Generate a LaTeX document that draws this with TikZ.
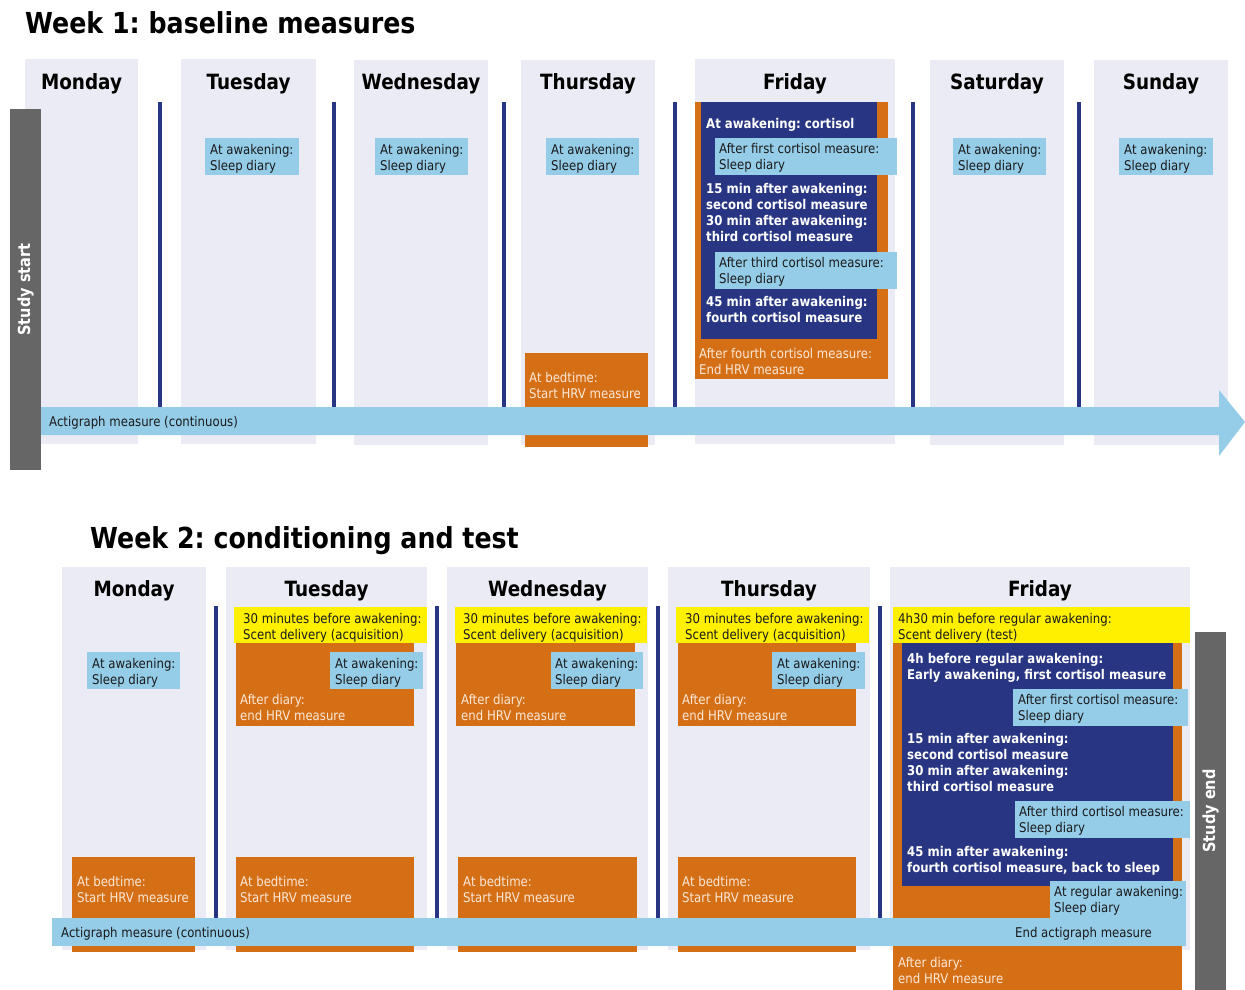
\documentclass[tikz,border=0pt]{standalone}
\usepackage{fontspec}
\setmainfont{DejaVu Sans}[FakeStretch=0.875]
\frenchspacing
\definecolor{lav}{HTML}{EAEBF4}
\definecolor{dblue}{HTML}{283583}
\definecolor{orng}{HTML}{D56F16}
\definecolor{lblue}{HTML}{95CDE8}
\definecolor{yel}{HTML}{FFF000}
\definecolor{gry}{HTML}{666666}
\definecolor{ltxt}{HTML}{FBE8D8}
\definecolor{dtxt}{HTML}{1A1A1A}
\newcommand\fs{\fontsize{13.4bp}{16bp}\selectfont}
\newcommand\bx[6]{\node[#6,anchor=north west,inner sep=0pt,outer sep=0pt,minimum width={(#4-#2)*1bp},minimum height={(#5-#3)*1bp}] (#1) at (#2,#3) {};}
\newcommand\ml[1]{\vtop{\baselineskip=16bp\lineskiplimit=-20pt\lineskip=0pt\halign{##\hfil\cr#1\crcr}}}
\newcommand\tx[5]{\node[#4,anchor=base west,inner sep=0pt] (#1) at (#2,#3) {\ml{#5}};}
\tikzset{
  col/.style={fill=lav},
  ob/.style={fill=orng},
  db/.style={fill=dblue},
  lb/.style={fill=lblue},
  yb/.style={fill=yel},
  gb/.style={fill=gry},
  divider/.style={draw=dblue,line width=4.5bp},
  tdark/.style={text=dtxt,font=\fs},
  tlight/.style={text=ltxt,font=\fs},
  tbold/.style={text=white,font=\bfseries\fs},
  dayname/.style={font=\bfseries\fontsize{21bp}{25bp}\selectfont,anchor=base,inner sep=0pt,text=black},
  ttl/.style={font=\bfseries\fontsize{28.9bp}{34bp}\selectfont,anchor=base west,inner sep=0pt,text=black},
  studybar/.style={text=white,font=\bfseries\fontsize{16.6bp}{20bp}\selectfont,rotate=90,inner sep=0pt},
}
\begin{document}
\begin{tikzpicture}[x=1bp,y=-1bp]
\useasboundingbox (0,0) rectangle (1245,990);
% ================= WEEK 1 =================
\node[ttl] (title1) at (25,33) {Week 1: baseline measures};
\bx{c1mon}{25}{59}{138}{444}{col}
\bx{c1tue}{181}{59}{316}{444}{col}
\bx{c1wed}{354}{60}{488}{445}{col}
\bx{c1thu}{521}{60}{655}{445}{col}
\bx{c1fri}{695}{59}{895}{444}{col}
\bx{c1sat}{930}{60}{1064}{445}{col}
\bx{c1sun}{1094}{60}{1228}{445}{col}
\node[dayname] (d1mon) at (81.5,89) {Monday};
\node[dayname] (d1tue) at (248.5,89) {Tuesday};
\node[dayname] (d1wed) at (421,89) {Wednesday};
\node[dayname] (d1thu) at (588,89) {Thursday};
\node[dayname] (d1fri) at (795,89) {Friday};
\node[dayname] (d1sat) at (997,89) {Saturday};
\node[dayname] (d1sun) at (1161,89) {Sunday};
\foreach \xx in {160,334,504,675,913,1079} {\draw[divider] (\xx,102) -- (\xx,408);}
% boxes
\bx{s1tue}{205}{138}{299}{175}{lb}
\bx{s1wed}{375}{138}{468}{175}{lb}
\bx{s1thu}{546}{138}{639}{175}{lb}
\bx{s1sat}{953}{138}{1046}{175}{lb}
\bx{s1sun}{1119}{138}{1213}{175}{lb}
\bx{h1thu}{525}{353}{648}{447}{ob}
\bx{f1or}{695}{102}{888}{379}{ob}
\bx{f1db}{701}{102}{877}{339}{db}
\bx{f1lb1}{715}{138}{897}{175}{lb}
\bx{f1lb2}{715}{252}{897}{289}{lb}
% study start and actigraph arrow
\bx{sstart}{10}{109}{41}{470}{gb}
\fill[lblue] (41,407) -- (1219,407) -- (1219,390) -- (1245,422) -- (1219,456) -- (1219,435) -- (41,435) -- cycle;
% texts week 1
\node[studybar] (sstartt) at (sstart.center) {Study start};
\tx{a1}{49}{426}{tdark}{Actigraph measure (continuous)}
\tx{s1tuet}{210}{154}{tdark}{At awakening:\cr Sleep diary}
\tx{s1wedt}{380}{154}{tdark}{At awakening:\cr Sleep diary}
\tx{s1thut}{551}{154}{tdark}{At awakening:\cr Sleep diary}
\tx{s1satt}{958}{154}{tdark}{At awakening:\cr Sleep diary}
\tx{s1sunt}{1124}{154}{tdark}{At awakening:\cr Sleep diary}
\tx{h1thut}{529}{382}{tlight}{At bedtime:\cr Start HRV measure}
\tx{f1t1}{706}{128}{tbold}{At awakening: cortisol}
\tx{f1t2}{719}{153}{tdark}{After first cortisol measure:\cr Sleep diary}
\tx{f1t3}{706}{193}{tbold}{15 min after awakening:\cr second cortisol measure\cr 30 min after awakening:\cr third cortisol measure}
\tx{f1t4}{719}{267}{tdark}{After third cortisol measure:\cr Sleep diary}
\tx{f1t5}{706}{306}{tbold}{45 min after awakening:\cr fourth cortisol measure}
\tx{f1t6}{699}{358}{tlight}{After fourth cortisol measure:\cr End HRV measure}
% ================= WEEK 2 =================
\node[ttl] (title2) at (90,548) {Week 2: conditioning and test};
\bx{c2mon}{62}{567}{206}{950}{col}
\bx{c2tue}{226}{567}{427}{950}{col}
\bx{c2wed}{447}{567}{648}{950}{col}
\bx{c2thu}{668}{567}{870}{950}{col}
\bx{c2fri}{890}{567}{1190}{950}{col}
\node[dayname] (d2mon) at (134,596) {Monday};
\node[dayname] (d2tue) at (326.5,596) {Tuesday};
\node[dayname] (d2wed) at (547.5,596) {Wednesday};
\node[dayname] (d2thu) at (769,596) {Thursday};
\node[dayname] (d2fri) at (1040,596) {Friday};
\foreach \xx in {216,437,658,880} {\draw[divider] (\xx,606) -- (\xx,919);}
% Monday
\bx{s2mon}{87}{652}{180}{689}{lb}
\bx{h2mon}{72}{857}{195}{952}{ob}
% Tuesday
\bx{y2tue}{234}{607}{427}{643}{yb}
\bx{o2tue}{236}{643}{414}{726}{ob}
\bx{s2tue}{330}{652}{423}{689}{lb}
\bx{h2tue}{236}{857}{414}{952}{ob}
% Wednesday
\bx{y2wed}{455}{607}{647}{643}{yb}
\bx{o2wed}{456}{643}{635}{726}{ob}
\bx{s2wed}{551}{652}{643}{689}{lb}
\bx{h2wed}{458}{857}{637}{952}{ob}
% Thursday
\bx{y2thu}{676}{607}{869}{643}{yb}
\bx{o2thu}{678}{643}{856}{726}{ob}
\bx{s2thu}{772}{652}{865}{689}{lb}
\bx{h2thu}{678}{857}{856}{952}{ob}
% Friday
\bx{y2fri}{893}{607}{1190}{643}{yb}
\bx{o2fri}{893}{643}{1182}{990}{ob}
\bx{f2db}{902}{643}{1173}{886}{db}
\bx{f2lb1}{1013}{689}{1188}{726}{lb}
\bx{f2lb2}{1015}{801}{1190}{838}{lb}
\bx{f2lb3}{1050}{881}{1186}{919}{lb}
\bx{bar2}{52}{918}{1186}{946}{lb}
\bx{send}{1195}{632}{1226}{990}{gb}
% texts week 2
\node[studybar] (sendt) at (send.center) {Study end};
\tx{a2}{61}{937}{tdark}{Actigraph measure (continuous)}
\tx{a2e}{1015}{937}{tdark}{End actigraph measure}
\tx{s2mont}{92}{668}{tdark}{At awakening:\cr Sleep diary}
\tx{h2mont}{77}{886}{tlight}{At bedtime:\cr Start HRV measure}
\tx{y2tuet}{243}{623}{tdark}{30 minutes before awakening:\cr Scent delivery (acquisition)}
\tx{o2tuet}{240}{704}{tlight}{After diary:\cr end HRV measure}
\tx{s2tuet}{335}{668}{tdark}{At awakening:\cr Sleep diary}
\tx{h2tuet}{240}{886}{tlight}{At bedtime:\cr Start HRV measure}
\tx{y2wedt}{463}{623}{tdark}{30 minutes before awakening:\cr Scent delivery (acquisition)}
\tx{o2wedt}{461}{704}{tlight}{After diary:\cr end HRV measure}
\tx{s2wedt}{555}{668}{tdark}{At awakening:\cr Sleep diary}
\tx{h2wedt}{463}{886}{tlight}{At bedtime:\cr Start HRV measure}
\tx{y2thut}{685}{623}{tdark}{30 minutes before awakening:\cr Scent delivery (acquisition)}
\tx{o2thut}{682}{704}{tlight}{After diary:\cr end HRV measure}
\tx{s2thut}{777}{668}{tdark}{At awakening:\cr Sleep diary}
\tx{h2thut}{682}{886}{tlight}{At bedtime:\cr Start HRV measure}
\tx{y2frit}{898}{623}{tdark}{4h30 min before regular awakening:\cr Scent delivery (test)}
\tx{f2t1}{907}{663}{tbold}{4h before regular awakening:\cr Early awakening, first cortisol measure}
\tx{f2t2}{1018}{704}{tdark}{After first cortisol measure:\cr Sleep diary}
\tx{f2t3}{907}{743}{tbold}{15 min after awakening:\cr second cortisol measure\cr 30 min after awakening:\cr third cortisol measure}
\tx{f2t4}{1019}{816}{tdark}{After third cortisol measure:\cr Sleep diary}
\tx{f2t5}{907}{856}{tbold}{45 min after awakening:\cr fourth cortisol measure, back to sleep}
\tx{f2t6}{1054}{896}{tdark}{At regular awakening:\cr Sleep diary}
\tx{f2t7}{898}{967}{tlight}{After diary:\cr end HRV measure}
\end{tikzpicture}
\end{document}
